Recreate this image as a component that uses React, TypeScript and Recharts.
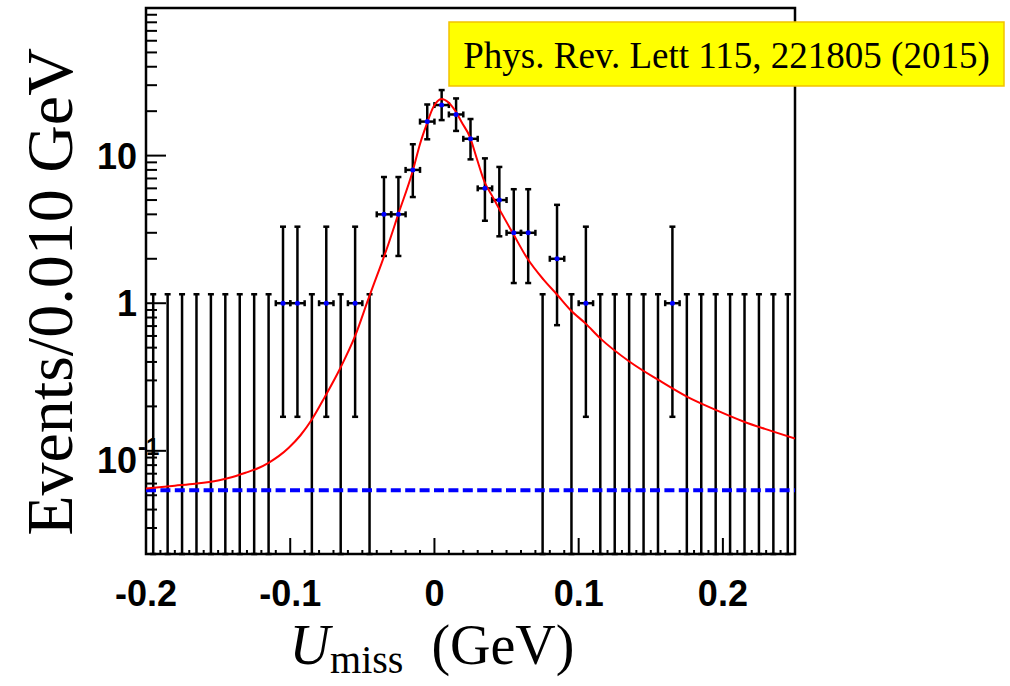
import {
  ComposedChart,
  Scatter,
  Line,
  XAxis,
  YAxis,
  ErrorBar,
  ReferenceLine,
  ReferenceArea,
} from "recharts";

// histogram binning (GeV)
const xMin = -0.2;
const xMax = 0.25;
const binWidth = 0.01;
const yMin = 0.02;
const yMax = 100;

// events per bin
const counts = [
  0, 0, 0, 0, 0, 0, 0, 0, 0,
  1, 1, 0, 1, 0, 1, 0,
  4, 4, 8, 17, 22, 19, 13, 6, 5, 3, 3, 0, 2, 0, 1,
  0, 0, 0, 0, 0, 1,
  0, 0, 0, 0, 0, 0, 0, 0,
];

// lower / upper ends of the vertical error bars
const errLow = [
  0, 0, 0, 0, 0, 0, 0, 0, 0,
  0.17, 0.17, 0, 0.17, 0, 0.17, 0,
  2.09, 2.09, 5.24, 12.9, 17.4, 14.7, 9.43, 3.62, 2.84, 1.37, 1.37, 0, 0.71, 0, 0.17,
  0, 0, 0, 0, 0, 0.17,
  0, 0, 0, 0, 0, 0, 0, 0,
];
const errHigh = [
  1.15, 1.15, 1.15, 1.15, 1.15, 1.15, 1.15, 1.15, 1.15,
  3.3, 3.3, 1.15, 3.3, 1.15, 3.3, 1.15,
  7.16, 7.16, 11.94, 22.2, 27.8, 24.4, 17.7, 9.58, 8.38, 5.92, 5.92, 1.15, 4.64, 1.15, 3.3,
  1.15, 1.15, 1.15, 1.15, 1.15, 3.3,
  1.15, 1.15, 1.15, 1.15, 1.15, 1.15, 1.15, 1.15,
];

// total fit (red curve)
const fitX = [
  -0.2, -0.18, -0.166, -0.15, -0.14, -0.131, -0.122, -0.115, -0.108, -0.101,
  -0.093, -0.085, -0.076, -0.0655, -0.055, -0.0458, -0.0377, -0.0331, -0.025, -0.015,
  -0.01, -0.0053, -0.0008, 0.005, 0.0096, 0.0143, 0.0189, 0.0247, 0.0293, 0.0351,
  0.0397, 0.0443, 0.0547, 0.064, 0.0755, 0.0848, 0.0943, 0.1047, 0.1148, 0.1356,
  0.1553, 0.175, 0.1946, 0.2142, 0.2339, 0.25,
];
const fitY = [
  0.0555, 0.058, 0.0598, 0.063, 0.0665, 0.071, 0.0765, 0.083, 0.092, 0.105,
  0.127, 0.163, 0.232, 0.36, 0.6, 1.07, 1.75, 2.33, 4.03, 7.9,
  12.0, 16.4, 21.3, 24.2, 23.0, 20.2, 16.8, 13.3, 9.6, 6.5,
  5.4, 4.46, 2.94, 2.04, 1.45, 1.15, 0.9, 0.73, 0.58, 0.4,
  0.302, 0.233, 0.19, 0.158, 0.136, 0.121,
];

// flat background component (blue dashed)
const bkgLevel = 0.054;

const xTicks = Array.from({ length: 46 }, (_, i) => +(xMin + i * binWidth).toFixed(2));
const yTicks: number[] = [];
[0.01, 0.1, 1, 10].forEach((d) => {
  for (let m = 1; m <= 9; m++) {
    const v = +(d * m).toPrecision(3);
    if (v >= yMin && v <= yMax) yTicks.push(v);
  }
});
yTicks.push(100);

const bins = counts.map((n, i) => ({
  x: +(xMin + (i + 0.5) * binWidth).toFixed(3),
  n,
  lo: errLow[i],
  hi: errHigh[i],
}));

const filled = bins
  .filter((b) => b.n > 0)
  .map((b) => ({ x: b.x, y: b.n, yErr: [b.n - b.lo, b.hi - b.n], xErr: binWidth / 2 }));

const empty = bins
  .filter((b) => b.n === 0)
  .map((b) => ({ x: b.x, y: b.hi, yErr: [b.hi - yMin, 0] }));

const fit = fitX.map((x, i) => ({ x, y: fitY[i] }));

const labelFont = "'Liberation Sans', Arial, sans-serif";
const serif = "'Liberation Serif', 'Times New Roman', serif";

function XTick(props: any) {
  const { x, y, payload } = props;
  const v = payload.value as number;
  const major = Math.abs(v * 10 - Math.round(v * 10)) < 1e-6;
  return (
    <g>
      <line x1={x} x2={x} y1={y} y2={y - (major ? 16 : 4)} stroke="#000" strokeWidth={2} />
      {major && (
        <text
          x={x}
          y={y + 52}
          textAnchor="middle"
          fontFamily={labelFont}
          fontWeight="bold"
          fontSize={36}
          fill="#000"
        >
          {Math.abs(v) < 1e-9 ? "0" : v.toFixed(1)}
        </text>
      )}
    </g>
  );
}

function YTick(props: any) {
  const { x, y, payload } = props;
  const v = payload.value as number;
  const e = Math.log10(v);
  const major = Math.abs(e - Math.round(e)) < 1e-6;
  const exp = Math.round(e);
  let label = null;
  if (major && exp === 1) label = "10";
  if (major && exp === 0) label = "1";
  return (
    <g>
      <line x1={x} x2={x + (major ? 20 : 11)} y1={y} y2={y} stroke="#000" strokeWidth={2} />
      {label && (
        <text
          x={x - 9}
          y={y + 13}
          textAnchor="end"
          fontFamily={labelFont}
          fontWeight="bold"
          fontSize={36}
          fill="#000"
        >
          {label}
        </text>
      )}
      {major && exp === -1 && (
        <g>
          <text
            x={x - 9}
            y={y + 22}
            textAnchor="end"
            fontFamily={labelFont}
            fontWeight="bold"
            fontSize={36}
            fill="#000"
          >
            10
          </text>
          <text
            x={x - 8}
            y={y + 4}
            textAnchor="start"
            fontFamily={labelFont}
            fontWeight="bold"
            fontSize={24}
            fill="#000"
          >
            -1
          </text>
        </g>
      )}
    </g>
  );
}

export default function App() {
  return (
    <div style={{ position: "absolute", left: 0, top: 0, width: 1010, height: 686, background: "#fff" }}>
      <ComposedChart
        width={1010}
        height={686}
        margin={{ top: 8, right: 215, bottom: 0, left: 0 }}
      >
        <XAxis
          type="number"
          dataKey="x"
          domain={[xMin, xMax]}
          ticks={xTicks}
          interval={0}
          tickSize={0}
          tickMargin={0}
          axisLine={false}
          tickLine={false}
          allowDataOverflow
          height={132}
          tick={XTick}
        />
        <YAxis
          type="number"
          dataKey="y"
          scale="log"
          domain={[yMin, yMax]}
          ticks={yTicks}
          interval={0}
          tickSize={0}
          tickMargin={0}
          axisLine={false}
          tickLine={false}
          allowDataOverflow
          width={146}
          tick={YTick}
        />
        <Scatter data={empty} isAnimationActive={false} shape={() => <g />}>
          <ErrorBar direction="y" dataKey="yErr" width={3} stroke="#000" strokeWidth={2.5} />
        </Scatter>
        <Scatter
          data={filled}
          isAnimationActive={false}
          shape={(p: any) => <circle cx={p.cx} cy={p.cy} r={2.5} fill="#0000ff" />}
        >
          <ErrorBar direction="y" dataKey="yErr" width={3} stroke="#000" strokeWidth={2.5} />
          <ErrorBar direction="x" dataKey="xErr" width={3} stroke="#000" strokeWidth={2.5} />
        </Scatter>
        <ReferenceLine
          y={bkgLevel}
          stroke="#0000ff"
          strokeWidth={4}
          strokeDasharray="10 4.4"
        />
        <Line
          data={fit}
          dataKey="y"
          type="monotone"
          stroke="#ff0000"
          strokeWidth={2}
          dot={false}
          activeDot={false}
          isAnimationActive={false}
        />
        <ReferenceArea
          x1={xMin}
          x2={xMax}
          y1={yMin}
          y2={yMax}
          fill="none"
          fillOpacity={0}
          stroke="#000"
          strokeWidth={2.5}
        />
      </ComposedChart>
      <svg
        width={1010}
        height={686}
        style={{ position: "absolute", left: 0, top: 0, pointerEvents: "none" }}
      >
        <text
          transform="translate(72,292) rotate(-90)"
          textAnchor="middle"
          fontFamily={serif}
          fontSize={66}
          fill="#000"
        >
          Events/0.010 GeV
        </text>
        <text x={432} y={664} textAnchor="middle" fontFamily={serif} fontSize={56} fill="#000">
          <tspan fontStyle="italic">U</tspan>
          <tspan fontSize={40} dy={9}>miss</tspan>
          <tspan dy={-9}>{"\u2002(GeV)"}</tspan>
        </text>
        <rect x={449} y={22} width={555} height={64} fill="#ffff00" stroke="#f2c200" strokeWidth={1.5} />
        <text
          x={726.5}
          y={55}
          textAnchor="middle"
          dominantBaseline="central"
          fontFamily={serif}
          fontSize={37}
          fill="#000"
        >
          Phys. Rev. Lett 115, 221805 (2015)
        </text>
      </svg>
    </div>
  );
}
